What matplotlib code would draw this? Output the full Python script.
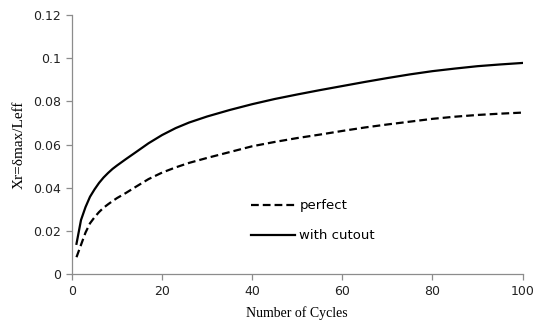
import matplotlib
matplotlib.use("Agg")
import matplotlib.pyplot as plt
from matplotlib.ticker import FuncFormatter, MultipleLocator

# cycle counts and drift ratios read for both specimens
cycles = [1, 2, 3, 4, 5, 6, 7, 8, 9, 10, 12, 14, 17, 20, 23, 26, 30, 35, 40,
          45, 50, 55, 60, 65, 70, 75, 80, 85, 90, 95, 100]
perfect = [0.0078, 0.0135, 0.0192, 0.0235, 0.0263, 0.0287, 0.0307, 0.0323,
           0.0338, 0.0352, 0.0376, 0.0402, 0.0440, 0.0470, 0.0494, 0.0515,
           0.0538, 0.0565, 0.0592, 0.0612, 0.0630, 0.0646, 0.0663, 0.0679,
           0.0693, 0.0706, 0.0719, 0.0729, 0.0737, 0.0743, 0.0748]
cutout = [0.0140, 0.0250, 0.0310, 0.0358, 0.0392, 0.0422, 0.0447, 0.0468,
          0.0487, 0.0503, 0.0533, 0.0562, 0.0606, 0.0644, 0.0676, 0.0702,
          0.0730, 0.0760, 0.0787, 0.0811, 0.0832, 0.0852, 0.0871, 0.0890,
          0.0908, 0.0925, 0.0940, 0.0952, 0.0963, 0.0971, 0.0978]

fig = plt.figure(figsize=(5.34, 3.27), dpi=100)
ax = fig.add_axes([0.1348, 0.162, 0.8437, 0.792])

ax.plot(cycles, perfect, color="black", lw=1.6, ls=(0, (3.5, 1.8)), label="perfect")
ax.plot(cycles, cutout, color="black", lw=1.6, label="with cutout")

ax.set_xlim(0, 100)
ax.set_ylim(0, 0.12)
ax.xaxis.set_major_locator(MultipleLocator(20))
ax.yaxis.set_major_locator(MultipleLocator(0.02))
ax.yaxis.set_major_formatter(FuncFormatter(lambda v, p: "%g" % round(v, 4)))

for side in ("top", "right"):
    ax.spines[side].set_visible(False)
for side in ("left", "bottom"):
    ax.spines[side].set_color("#8c8c8c")
    ax.spines[side].set_linewidth(0.9)
ax.tick_params(direction="out", length=4, width=0.9, color="#8c8c8c",
               labelsize=9, labelcolor="#222222", pad=4)

serif = ["Liberation Serif", "DejaVu Serif"]
ax.set_xlabel("Number of Cycles", family=serif, fontsize=10, labelpad=6)
ax.set_ylabel("Xr=δmax/Leff", family=serif, fontsize=11, labelpad=5)

ax.legend(loc="upper left", bbox_to_anchor=(0.37, 0.335), frameon=False,
          fontsize=9.5, handlelength=3.4, handletextpad=0.3, labelspacing=1.3)

fig.savefig("out.png", dpi=100)
